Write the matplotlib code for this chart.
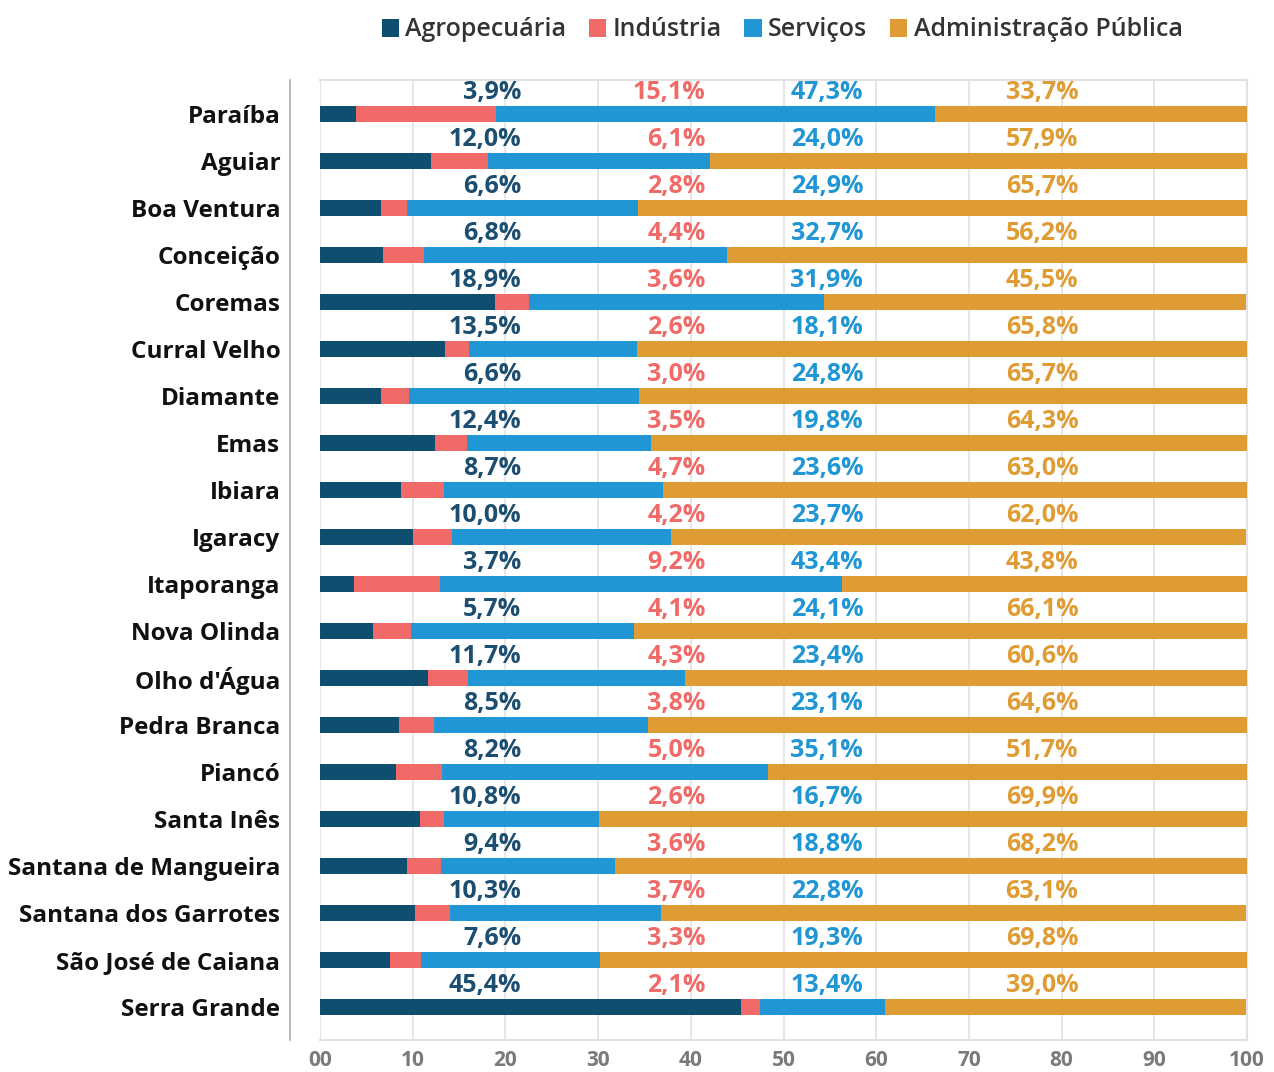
import numpy as np
import matplotlib
matplotlib.use('Agg')
import matplotlib.pyplot as plt
from matplotlib.patches import Patch

municipios = ['Paraíba', 'Aguiar', 'Boa Ventura', 'Conceição', 'Coremas', 'Curral Velho',
              'Diamante', 'Emas', 'Ibiara', 'Igaracy', 'Itaporanga', 'Nova Olinda',
              "Olho d'Água", 'Pedra Branca', 'Piancó', 'Santa Inês', 'Santana de Mangueira',
              'Santana dos Garrotes', 'São José de Caiana', 'Serra Grande']

agro = [3.9, 12.0, 6.6, 6.8, 18.9, 13.5, 6.6, 12.4, 8.7, 10.0, 3.7, 5.7, 11.7, 8.5, 8.2,
        10.8, 9.4, 10.3, 7.6, 45.4]
industria = [15.1, 6.1, 2.8, 4.4, 3.6, 2.6, 3.0, 3.5, 4.7, 4.2, 9.2, 4.1, 4.3, 3.8, 5.0,
             2.6, 3.6, 3.7, 3.3, 2.1]
servicos = [47.3, 24.0, 24.9, 32.7, 31.9, 18.1, 24.8, 19.8, 23.6, 23.7, 43.4, 24.1, 23.4,
            23.1, 35.1, 16.7, 18.8, 22.8, 19.3, 13.4]
admin = [33.7, 57.9, 65.7, 56.2, 45.5, 65.8, 65.7, 64.3, 63.0, 62.0, 43.8, 66.1, 60.6,
         64.6, 51.7, 69.9, 68.2, 63.1, 69.8, 39.0]

series = ['Agropecuária', 'Indústria', 'Serviços', 'Administração Pública']
colors = ['#0e4f6f', '#f06b68', '#2196d4', '#e09c34']
label_colors = ['#1b4e70', '#f06b68', '#2196d4', '#e09c34']
label_x = [21.7, 41.6, 58.6, 81.8]
xticks = np.arange(0, 101, 10)
xticklabels = ['00', '10', '20', '30', '40', '50', '60', '70', '80', '90', '100']

fig = plt.figure(figsize=(12.74, 10.72), dpi=100)
ax = fig.add_axes([320/1274, 1 - 1040/1072, 927/1274, 960/1072])

# spine position first: moving it resets the ticks
for s in ['top', 'right', 'bottom']:
    ax.spines[s].set_color('#e2e2e2')
    ax.spines[s].set_linewidth(1.5)
ax.spines['left'].set_position(('outward', 21.6))
ax.spines['left'].set_color('#aaaaaa')
ax.spines['left'].set_linewidth(1.2)

y = np.arange(len(municipios))
data = [agro, industria, servicos, admin]
left = np.zeros(len(municipios))
for vals, c in zip(data, colors):
    vals = np.array(vals)
    ax.barh(y, vals, left=left, height=0.34, color=c, zorder=3)
    left += vals

for k, vals in enumerate(data):
    for i, v in enumerate(vals):
        txt = ('%.1f%%' % v).replace('.', ',')
        ax.text(label_x[k], i - 0.45, txt, ha='right', va='center', fontsize=18,
                fontweight='bold', color=label_colors[k], family='Open Sans', zorder=4)

ax.tick_params(axis='both', length=0)
ax.tick_params(axis='y', pad=7)
ax.tick_params(axis='x', pad=7)
ax.set_xlim(0, 100)
ax.set_ylim(len(municipios) - 0.3, -0.72)
ax.set_xticks(xticks)
ax.set_xticklabels(xticklabels, fontsize=15, fontweight='bold', color='#7a7a7a', family='Open Sans')
ax.set_yticks(y)
ax.set_yticklabels(municipios, fontsize=17.5, fontweight='bold', color='#111111', family='Open Sans')
ax.grid(axis='x', color='#e2e2e2', linewidth=1.2, zorder=0)

handles = [Patch(facecolor=c, edgecolor='none') for c in colors]
fig.legend(handles, series, loc='center', bbox_to_anchor=(782/1274, 1 - 30/1072), ncol=4,
           frameon=False, prop={'family': 'Open Sans', 'size': 18, 'weight': 'semibold'},
           handlelength=0.7, handleheight=0.7, handletextpad=0.25, columnspacing=0.9,
           labelcolor='#333333')

fig.savefig('out.png', dpi=100)
